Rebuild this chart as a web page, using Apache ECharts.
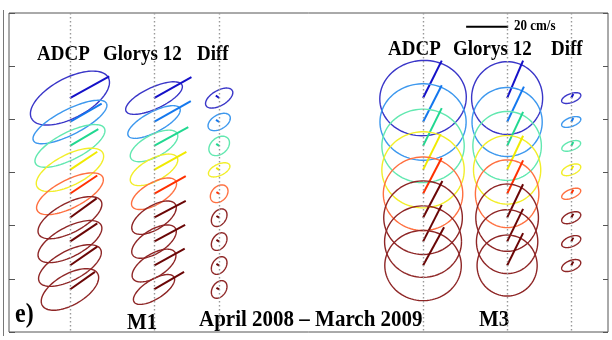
<!DOCTYPE html>
<html>
<head>
<meta charset="utf-8">
<script src="https://cdn.jsdelivr.net/npm/echarts@6/dist/echarts.min.js"></script>
<style>
  html, body { margin: 0; padding: 0; background: #fff; }
  #chart { width: 612px; height: 340px; }
</style>
</head>
<body>
<div id="chart"></div>
<script>
// Depth (m) of each ellipse row, shallow to deep
const depths = [80, 102.5, 125, 147.5, 170, 192.5, 215, 237.5, 260];

// Column centres on the x axis (x axis is in cm/s so ellipses keep true shape)
const columnX = [29, 69, 100, 197, 237, 267.5];

// Outline colour of each row's ellipse and of its vector
const ellipseColors = ['#3a36c8', '#3d98ee', '#62e8b0', '#f2ee2a', '#ff7040', '#8e2626', '#8e2626', '#8e2626', '#8e2626'];
const vectorColors  = ['#1410c8', '#1478ee', '#20d890', '#f0ea00', '#ff3000', '#6a0606', '#6a0606', '#6a0606', '#6a0606'];

// Rows: [semi-major, semi-minor (cm/s), orientation (deg from east), mean u, mean v (cm/s)]
const m1Adcp = [
  [20.7, 9.5, 28, 18.7, 10.3],
  [19.5, 6.0, 27, 15.1, 8.7],
  [18.4, 6.5, 27, 13.5, 8.0],
  [17.6, 7.3, 27, 13.0, 8.6],
  [17.5, 6.7, 27, 13.0, 8.7],
  [16.8, 7.0, 28, 12.7, 9.2],
  [16.8, 7.0, 28, 13.0, 8.7],
  [16.5, 7.0, 28, 13.0, 9.0],
  [15.2, 7.3, 30, 11.9, 8.4]
];
const m1Glorys = [
  [14.7, 5.1, 25, 17.8, 10.0],
  [13.9, 4.8, 28, 17.5, 9.9],
  [12.5, 5.3, 28, 16.3, 9.0],
  [12.5, 5.3, 28, 15.4, 8.6],
  [12.0, 5.2, 30, 15.1, 8.4],
  [12.0, 5.6, 32, 15.1, 8.0],
  [12.0, 5.6, 32, 14.8, 8.0],
  [11.8, 5.5, 32, 14.6, 8.0],
  [11.2, 4.6, 32, 14.3, 8.4]
];
const m1Diff = [
  [7.2, 3.6, 30, -1.6, 1.2],
  [5.8, 3.4, 30, -1.5, 1.0],
  [5.5, 3.9, 40, -1.4, 1.0],
  [5.5, 2.7, 25, -1.4, 0.9],
  [4.8, 3.5, 45, -1.3, 0.8],
  [4.6, 3.2, 55, -1.3, 0.8],
  [4.6, 3.2, 55, -1.3, 0.8],
  [4.6, 3.2, 55, -1.3, 0.8],
  [4.6, 3.2, 55, -1.3, 0.8]
];
const m3Adcp = [
  [20.6, 17.9, 5, 8.9, 17.8],
  [20.5, 18.2, 0, 8.9, 17.5],
  [19.6, 17.5, 0, 8.9, 18.0],
  [19.6, 18.1, 0, 8.4, 17.0],
  [18.9, 17.5, 0, 8.9, 17.1],
  [18.7, 17.5, 0, 9.2, 17.5],
  [18.3, 17.0, 0, 8.9, 17.5],
  [18.2, 16.7, 0, 10.0, 18.2]
];
const m3Glorys = [
  [17.3, 16.9, 90, 7.6, 17.8],
  [16.7, 16.4, 0, 8.0, 16.8],
  [16.4, 16.3, 90, 7.6, 16.2],
  [16.3, 16.0, 90, 7.6, 16.2],
  [16.1, 15.1, 90, 7.6, 15.9],
  [16.0, 14.9, 90, 7.6, 15.9],
  [15.2, 14.6, 90, 7.6, 15.6],
  [14.5, 14.3, 90, 7.6, 15.4]
];
const m3Diff = [
  [4.8, 2.1, 20, 1.0, 1.9],
  [4.8, 2.1, 20, 1.0, 1.9],
  [4.7, 2.1, 20, 1.0, 1.9],
  [4.8, 2.3, 22, 1.0, 1.9],
  [4.8, 2.1, 22, 1.0, 1.9],
  [4.8, 2.4, 22, 1.0, 1.9],
  [4.8, 2.4, 22, 1.0, 1.9],
  [4.8, 2.4, 22, 1.0, 1.9]
];

// Velocity scale bar
const scaleBarStart = 217.5;
const scaleBarLength = 20;   // cm/s
const scaleBarDepth = 13;

const columns = [m1Adcp, m1Glorys, m1Diff, m3Adcp, m3Glorys, m3Diff];

// Flatten into [x, depth, a, b, theta, u, v, row]
const ellipseData = [];
columns.forEach((rows, c) => {
  rows.forEach((r, i) => {
    ellipseData.push([columnX[c], depths[i], r[0], r[1], r[2], r[3], r[4], i]);
  });
});

function renderEllipse(params, api) {
  const x = api.value(0), d = api.value(1);
  const c = api.coord([x, d]);
  const k = api.coord([x + 1, d])[0] - c[0];   // pixels per cm/s
  const a = api.value(2) * k, b = api.value(3) * k;
  const th = api.value(4) * Math.PI / 180;
  const row = api.value(7);
  const pts = [];
  for (let n = 0; n <= 90; n++) {
    const p = 2 * Math.PI * n / 90;
    const ex = a * Math.cos(p), ey = b * Math.sin(p);
    pts.push([c[0] + ex * Math.cos(th) - ey * Math.sin(th),
              c[1] - (ex * Math.sin(th) + ey * Math.cos(th))]);
  }
  return {
    type: 'group',
    children: [
      { type: 'polyline', shape: { points: pts },
        style: { fill: null, stroke: ellipseColors[row], lineWidth: 1.4 } },
      { type: 'line', shape: { x1: c[0], y1: c[1], x2: c[0] + api.value(5) * k, y2: c[1] - api.value(6) * k },
        style: { stroke: vectorColors[row], lineWidth: 2 } }
    ]
  };
}

const serif = '"Liberation Serif", "Times New Roman", serif';
function label(text, x, y, size, sy) {
  return {
    type: 'text', x: x, y: y, scaleY: sy || 1.15,
    style: { text: text, fill: '#000', font: 'bold ' + size + 'px ' + serif,
             textAlign: 'left', textVerticalAlign: 'middle', align: 'left', verticalAlign: 'middle' }
  };
}

const chart = echarts.init(document.getElementById('chart'), null, { renderer: 'canvas' });
chart.setOption({
  animation: false,
  backgroundColor: '#fff',
  grid: { left: 9, right: 4, top: 13, bottom: 8, show: true, borderColor: '#555', borderWidth: 1, backgroundColor: 'transparent' },
  xAxis: { type: 'value', min: 0, max: 285, show: false },
  yAxis: [
    { type: 'value', inverse: true, min: 0, max: 300, interval: 50, position: 'left',
      axisLine: { show: false }, axisLabel: { show: false }, splitLine: { show: false },
      axisTick: { show: true, inside: true, length: 6, lineStyle: { color: '#555' } } },
    { type: 'value', inverse: true, min: 0, max: 300, interval: 50, position: 'right',
      axisLine: { show: false }, axisLabel: { show: false }, splitLine: { show: false },
      axisTick: { show: true, inside: true, length: 5, lineStyle: { color: '#555' } } }
  ],
  series: [
    {
      type: 'scatter', data: [], symbolSize: 0, silent: true, z: 1,
      markLine: {
        silent: true, symbol: ['none', 'none'], label: { show: false },
        lineStyle: { type: [1.5, 2.5], color: '#999', width: 1.4 },
        data: columnX.map(x => ({ xAxis: x }))
      }
    },
    {
      type: 'custom', renderItem: renderEllipse, data: ellipseData, z: 2, silent: true
    },
    {
      type: 'line', data: [[scaleBarStart, scaleBarDepth], [scaleBarStart + scaleBarLength, scaleBarDepth]],
      showSymbol: false, silent: true, z: 3, lineStyle: { color: '#000', width: 2 }
    }
  ],
  graphic: [
    { type: 'line', shape: { x1: 3.5, y1: 10, x2: 3.5, y2: 336 }, style: { stroke: '#777', lineWidth: 1 } },
    label('ADCP', 37, 54, 19), label('Glorys 12', 103, 54, 19), label('Diff', 197, 54, 19),
    label('ADCP', 388, 49.5, 19), label('Glorys 12', 453, 49.5, 19), label('Diff', 551, 49.5, 19),
    label('20 cm/s', 514, 26.5, 13),
    label('e)', 15, 315, 24, 1.1),
    label('M1', 127, 323, 21, 1.1),
    label('April 2008 \u2013 March 2009', 199, 320, 21, 1.1),
    label('M3', 479, 320.5, 21, 1.1)
  ]
});
</script>
</body>
</html>
